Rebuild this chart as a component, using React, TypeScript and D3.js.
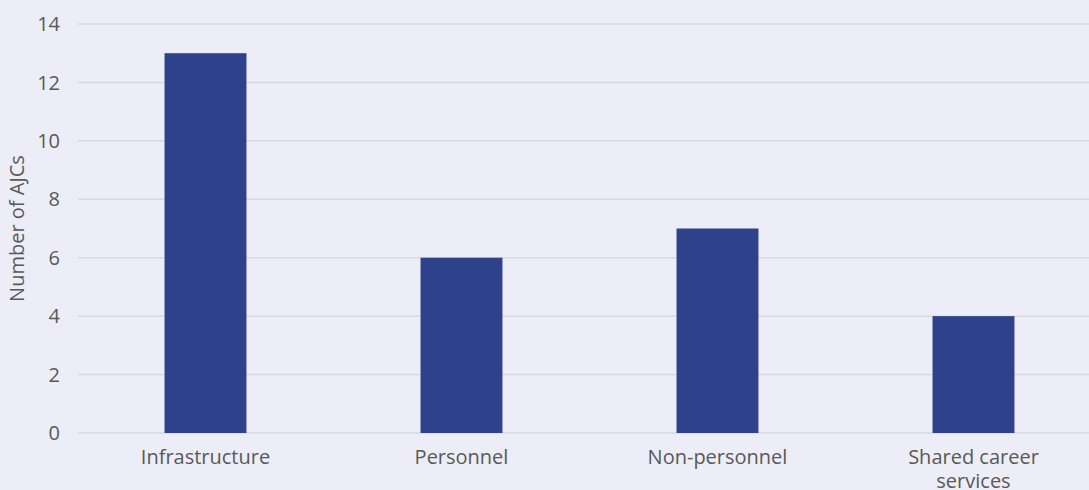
import React from "react";
import * as d3 from "d3";

const categories = ["Infrastructure", "Personnel", "Non-personnel", "Shared career services"];
const values = [13, 6, 7, 4];
const yTicks = [0, 2, 4, 6, 8, 10, 12, 14];
const yTitle = "Number of AJCs";

const W = 1089;
const H = 490;

function wrapLabel(s: string): string[] {
  if (s === "Shared career services") return ["Shared career", "services"];
  return [s];
}

export default function App() {
  const x = d3.scaleBand<string>().domain(categories).range([77.5, 1101.5]).paddingInner(0.68).paddingOuter(0.34);
  const y = d3.scaleLinear().domain([0, 14]).range([433, 24]);
  const font = "'Open Sans', 'Noto Sans', sans-serif";
  return (
    <div style={{ position: "fixed", left: 0, top: 0 }}>
      <svg width={W} height={H} style={{ display: "block" }}>
        <rect x={0} y={0} width={W} height={H} fill="#ecedf6" />
        {yTicks.map((t) => (
          <g key={t}>
            <line x1={78} x2={W} y1={y(t)} y2={y(t)} stroke="#d8d9de" strokeWidth={1.5} />
            <text x={60} y={y(t)} dy="0.36em" textAnchor="end" fontFamily={font} fontSize={20} fill="#595959">
              {t}
            </text>
          </g>
        ))}
        {categories.map((c, i) => (
          <rect key={c} x={x(c)} y={y(values[i])} width={x.bandwidth()} height={y(0) - y(values[i])} fill="#2e418b" />
        ))}
        {categories.map((c) => {
          const lines = wrapLabel(c);
          const cx = (x(c) as number) + x.bandwidth() / 2;
          return (
            <text key={c} x={cx} y={464} textAnchor="middle" fontFamily={font} fontSize={20} fill="#595959">
              {lines.map((l, j) => (
                <tspan key={j} x={cx} dy={j === 0 ? 0 : 24}>
                  {l}
                </tspan>
              ))}
            </text>
          );
        })}
        <text
          transform={`translate(24, ${(y(0) + y(14)) / 2}) rotate(-90)`}
          textAnchor="middle"
          fontFamily={font}
          fontSize={20}
          fill="#595959"
        >
          {yTitle}
        </text>
      </svg>
    </div>
  );
}
